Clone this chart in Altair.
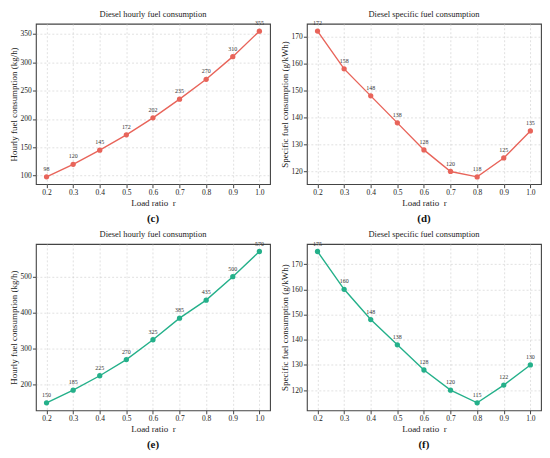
import altair as alt
import pandas as pd

load_ratio = [0.2, 0.3, 0.4, 0.5, 0.6, 0.7, 0.8, 0.9, 1.0]
hourly_c = [98, 120, 145, 172, 202, 235, 270, 310, 355]
specific_d = [172, 158, 148, 138, 128, 120, 118, 125, 135]
hourly_e = [150, 185, 225, 270, 325, 385, 435, 500, 570]
specific_f = [175, 160, 148, 138, 128, 120, 115, 122, 130]

RED = "#e8645a"
GREEN = "#24b08a"
FONT = "Liberation Serif"
W = 235


def panel(values, color, title, ytitle, ydomain, yticks, caption, h):
    df = pd.DataFrame({"r": load_ratio, "v": values})
    base = alt.Chart(df).encode(
        x=alt.X("r:Q", scale=alt.Scale(domain=[0.16, 1.04], nice=False, zero=False),
                axis=alt.Axis(values=load_ratio, format=".1f", title="Load ratio\u00a0 r")),
        y=alt.Y("v:Q", scale=alt.Scale(domain=ydomain, nice=False, zero=False),
                axis=alt.Axis(values=yticks, title=ytitle)),
    )
    line = base.mark_line(color=color, strokeWidth=1.4)
    pts = base.mark_circle(color=color, size=28, opacity=1)
    lbl = base.mark_text(dy=-8, fontSize=6, font=FONT, color="#333333").encode(text="v:Q")
    cap_df = pd.DataFrame({"t": [caption]})
    cap = alt.Chart(cap_df).mark_text(font=FONT, fontSize=11, fontWeight="bold",
                                      color="#111111").encode(
        text="t:N", x=alt.value(W / 2), y=alt.value(h + 35))
    return alt.layer(line, pts, lbl, cap).properties(
        width=W, height=h,
        title=alt.TitleParams(title, fontSize=8.5, font=FONT, fontWeight="normal",
                              color="#222222", offset=2))


c = panel(hourly_c, RED, "Diesel hourly fuel consumption",
          "Hourly fuel consumption (kg/h)", [85, 368], [100, 150, 200, 250, 300, 350], "(c)", 161)
d = panel(specific_d, RED, "Diesel specific fuel consumption",
          "Specific fuel consumption (g/kWh)", [115.3, 174.7], [120, 130, 140, 150, 160, 170], "(d)", 161)
e = panel(hourly_e, GREEN, "Diesel hourly fuel consumption",
          "Hourly fuel consumption (kg/h)", [129, 591], [200, 300, 400, 500], "(e)", 167)
f = panel(specific_f, GREEN, "Diesel specific fuel consumption",
          "Specific fuel consumption (g/kWh)", [112, 178], [120, 130, 140, 150, 160, 170], "(f)", 167)

chart = alt.concat(c, d, e, f, columns=2, spacing={"row": 60, "column": 37},
                   bounds="flush").properties(
    padding={"left": 0, "top": 0, "right": 0, "bottom": 0},
    background="white",
).configure_view(
    stroke="#444444", strokeWidth=1.1
).configure_axis(
    labelFont=FONT, titleFont=FONT, labelFontSize=7.5, titleFontSize=9,
    labelColor="#222222", titleColor="#222222", titleFontWeight="normal",
    domain=False, tickColor="#444444", tickSize=3.5,
    grid=True, gridColor="#cccccc", gridDash=[2, 2], gridWidth=0.6,
    labelPadding=1.2,
).configure_axisX(titlePadding=2).configure_axisY(titlePadding=2)

chart.save("out.html", embed_options={"renderer": "svg", "actions": False})
